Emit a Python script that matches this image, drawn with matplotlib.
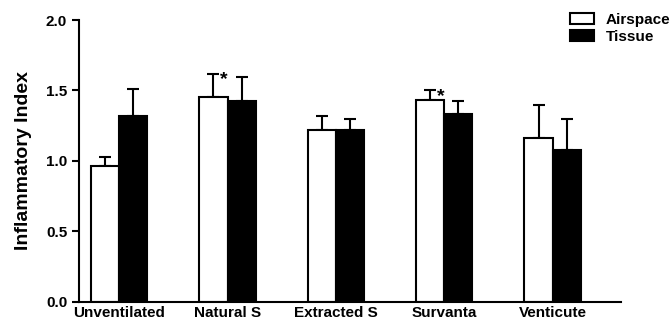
import matplotlib.pyplot as plt
import numpy as np

plt.rcParams['font.family'] = ['Liberation Sans', 'DejaVu Sans']
plt.rcParams['font.weight'] = 'bold'

groups = ['Unventilated', 'Natural S', 'Extracted S', 'Survanta', 'Venticute']
airspace = [0.96, 1.455, 1.22, 1.43, 1.16]
airspace_err = [0.07, 0.165, 0.10, 0.07, 0.235]
tissue = [1.32, 1.425, 1.22, 1.33, 1.08]
tissue_err = [0.19, 0.17, 0.08, 0.095, 0.22]
# groups with a significance star over the airspace bar
starred = [1, 3]

x = np.arange(len(groups))
w = 0.26

fig = plt.figure(figsize=(6.72, 3.24), dpi=100)
ax = fig.add_axes([0.1176, 0.0688, 0.8064, 0.8694])

ax.bar(x - w/2, airspace, w, color='white', edgecolor='black', linewidth=1.5,
       label='Airspace', zorder=2)
ax.bar(x + w/2, tissue, w, color='black', edgecolor='black', linewidth=1.5,
       label='Tissue', zorder=2)
ax.errorbar(x - w/2, airspace, yerr=[np.zeros(5), airspace_err], fmt='none',
            ecolor='black', elinewidth=1.5, capsize=4, capthick=1.5, zorder=1)
ax.errorbar(x + w/2, tissue, yerr=[np.zeros(5), tissue_err], fmt='none',
            ecolor='black', elinewidth=1.5, capsize=4, capthick=1.5, zorder=1)

for i in starred:
    ax.text(x[i] - w/2 + 0.1, airspace[i] + airspace_err[i] - 0.045, '*',
            ha='center', va='center', fontsize=14)

ax.set_xlim(-0.37, 4.63)
ax.set_ylim(0, 2.0)
ax.set_yticks([0.0, 0.5, 1.0, 1.5, 2.0])
ax.set_yticklabels(['0.0', '0.5', '1.0', '1.5', '2.0'])
ax.set_xticks(x)
ax.set_xticklabels(groups)
ax.tick_params(axis='x', length=0, pad=3, labelsize=11)
ax.tick_params(axis='y', direction='out', length=5, width=1.5, labelsize=11)
ax.set_ylabel('Inflammatory Index', fontsize=14, fontweight='bold', labelpad=10)

for s in ['top', 'right']:
    ax.spines[s].set_visible(False)
for s in ['left', 'bottom']:
    ax.spines[s].set_linewidth(1.5)

fig.legend(loc='upper right', bbox_to_anchor=(1.017, 1.0), frameon=False,
           fontsize=11, handlelength=1.55, handleheight=0.7, labelspacing=0.2,
           handletextpad=0.8, borderaxespad=0.45)

fig.savefig('out.png', dpi=100)
